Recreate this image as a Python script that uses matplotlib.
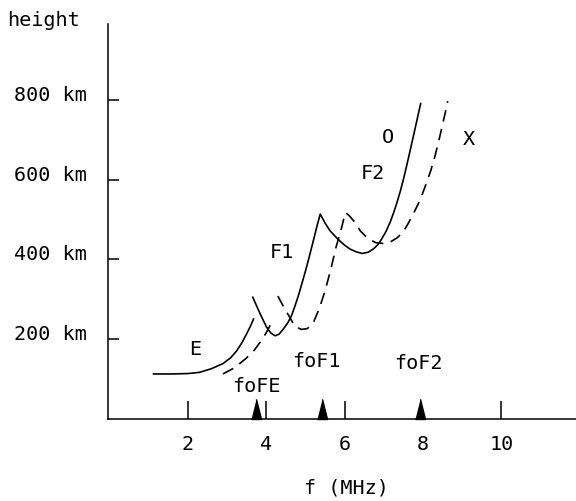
import matplotlib
matplotlib.use("Agg")
import matplotlib.pyplot as plt
from matplotlib.transforms import offset_copy

plt.rcParams['font.family'] = ['DejaVu Sans Mono']
plt.rcParams['font.size'] = 14.5

# ordinary (O) trace, E layer
e_o_f = [1.13, 1.6, 2.0, 2.3, 2.6, 2.9, 3.1, 3.25, 3.38, 3.5, 3.6, 3.68]
e_o_h = [112, 112, 113, 116, 125, 138, 153, 170, 190, 212, 232, 250]
# ordinary trace, F1 + F2
f_o_f = [3.66, 3.75, 3.84, 4.01, 4.12, 4.23, 4.33, 4.44, 4.55, 4.65, 4.74, 4.82,
         4.9, 4.99, 5.08, 5.16, 5.23, 5.29, 5.38, 5.5, 5.63, 5.84, 6.0, 6.14,
         6.3, 6.45, 6.6, 6.73, 6.85, 6.95, 7.05, 7.16, 7.25, 7.33, 7.42, 7.5,
         7.58, 7.67, 7.8, 7.94]
f_o_h = [305, 285, 265, 230, 215, 208, 212, 225, 240, 259, 284, 308,
         335, 366, 399, 430, 457, 481, 514, 492, 472, 450, 436, 426,
         419, 415, 418, 426, 437, 452, 469, 493, 517, 541, 571, 601,
         634, 673, 730, 792]

# extraordinary (X) trace, E layer
e_x_f = [2.9, 3.2, 3.5, 3.7, 3.85, 4.0, 4.15]
e_x_h = [112, 128, 152, 172, 192, 215, 243]
# extraordinary trace, F1 + F2
f_x_f = [4.3, 4.45, 4.6, 4.73, 4.9, 5.05, 5.2, 5.35, 5.5, 5.65, 5.78, 5.9, 6.02,
         6.12, 6.25, 6.4, 6.6, 6.8, 7.0, 7.17, 7.35, 7.5, 7.62, 7.75, 7.87,
         7.97, 8.08, 8.2, 8.3, 8.4, 8.5, 8.57, 8.63]
f_x_h = [308, 280, 255, 232, 224, 226, 240, 275, 320, 375, 430, 470, 518,
         510, 495, 472, 452, 442, 440, 444, 455, 470, 490, 514, 538,
         561, 590, 624, 658, 697, 740, 770, 798]

# critical frequencies (MHz)
crit_f = [3.73, 5.42, 7.93]

xticks = [2, 4, 6, 8, 10]
yticks = [200, 400, 600, 800]

fig = plt.figure(figsize=(5.76, 5.02), dpi=100)
ax = fig.add_axes([108 / 576, 82.5 / 502, 468 / 576, 394.5 / 502])
ax.set_xlim(-0.03, 11.9)
ax.set_ylim(0, 992)

for s in ['top', 'right']:
    ax.spines[s].set_visible(False)
for s in ['left', 'bottom']:
    ax.spines[s].set_linewidth(1.1)

lw = 1.2
dash = (0, (7, 4.5))
ax.plot(e_o_f, e_o_h, color='black', lw=lw)
ax.plot(f_o_f, f_o_h, color='black', lw=lw)
ax.plot(e_x_f, e_x_h, color='black', lw=lw, linestyle=dash)
ax.plot(f_x_f, f_x_h, color='black', lw=lw, linestyle=dash)

# triangles marking critical frequencies
tri = [(-0.25, 0), (0.25, 0), (0, 1)]
ax.plot(crit_f, [0] * len(crit_f), linestyle='none', marker=tri,
        markersize=29, color='black', clip_on=False, zorder=5)

ax.set_xticks(xticks)
ax.set_xticklabels([str(v) for v in xticks])
ax.tick_params(axis='x', direction='in', length=13, width=1.1, pad=11)
ax.xaxis.get_major_ticks()[xticks.index(8)].tick1line.set_visible(False)

ax.set_yticks(yticks)
ax.set_yticklabels([])
ax.tick_params(axis='y', direction='in', length=8, width=1.1)
ylab_tr = offset_copy(ax.get_yaxis_transform(), fig=fig, x=-15, y=4, units='points')
for v in yticks:
    ax.text(0, v, f"{v} km", transform=ylab_tr, ha='right', va='center')

# labels
ax.text(2.19, 175, "E", ha='center', va='center')
ax.text(4.4, 419, "F1", ha='center', va='center')
ax.text(6.73, 618, "F2", ha='center', va='center')
ax.text(7.1, 709, "O", ha='center', va='center')
ax.text(9.16, 704, "X", ha='center', va='center')
ax.text(3.74, 84, "foFE", ha='center', va='center')
ax.text(5.27, 147, "foF1", ha='center', va='center')
ax.text(7.87, 142, "foF2", ha='center', va='center')

fig.text(7 / 576, 1 - 26 / 502, "height", ha='left', va='baseline')
fig.text(346 / 576, 1 - 488 / 502, "f (MHz)", ha='center', va='center')

fig.savefig("out.png", dpi=100)
